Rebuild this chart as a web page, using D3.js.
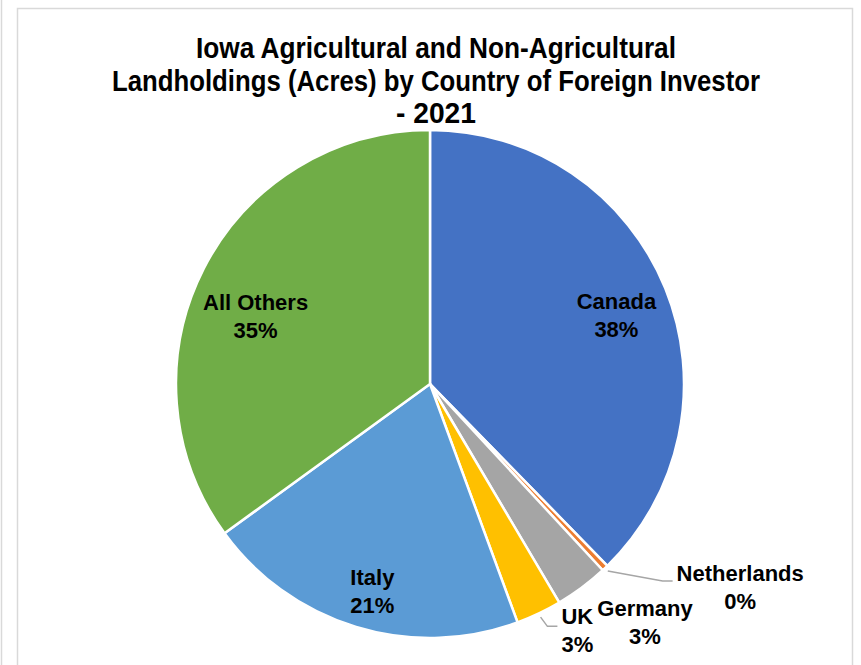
<!DOCTYPE html>
<html>
<head>
<meta charset="utf-8">
<script src="https://cdn.jsdelivr.net/npm/d3@7/dist/d3.min.js"></script>
<style>
  html, body { margin: 0; padding: 0; background: #ffffff; }
  svg { display: block; }
  .title { font-family: "Liberation Sans", Arial, sans-serif; font-weight: bold; font-size: 29px; fill: #000; }
  .lbl { font-family: "Liberation Sans", Arial, sans-serif; font-weight: bold; font-size: 22px; fill: #000; }
</style>
</head>
<body>
<script>
// Share of foreign-held acres by investor country (percent)
const countries = ["Canada", "Netherlands", "Germany", "UK", "Italy", "All Others"];
const shares    = [37.7, 0.4, 3.4, 2.9, 20.6, 35.0];
const colors    = ["#4472C4", "#ED7D31", "#A5A5A5", "#FFC000", "#5B9BD5", "#70AD47"];
const titleLines = ["Iowa Agricultural and Non-Agricultural",
                    "Landholdings (Acres) by Country of Foreign Investor",
                    "- 2021"];
// condensed title face: each line squeezed to its set width
const titleWidths = [480, 648, 80];

// label placement: inside labels sit on a ring, outside labels beyond the rim
const outside   = [false, true, true, true, false, false];
const nudges    = [[3, 6], [120, 3], [50, 17], [29, -3], [0, 18], [2, 22]];
const hasLeader = [false, true, false, true, false, false];

const W = 861, H = 665;
const cx = 430, cy = 384, R = 254;

const svg = d3.select("body").append("svg").attr("width", W).attr("height", H);

// outer frame lines
svg.append("line").attr("x1", 1.5).attr("x2", 1.5).attr("y1", 0).attr("y2", H)
  .attr("stroke", "#d9d9d9").attr("stroke-width", 1.5);
svg.append("rect").attr("x", 17.5).attr("y", 8.5).attr("width", 835).attr("height", H + 10)
  .attr("fill", "none").attr("stroke", "#d9d9d9").attr("stroke-width", 1.5);

// title
const titleY = [58, 91, 123];
titleLines.forEach((t, i) => {
  svg.append("text").attr("class", "title")
    .attr("x", 436 - titleWidths[i] / 2).attr("y", titleY[i])
    .attr("textLength", titleWidths[i])
    .attr("lengthAdjust", "spacingAndGlyphs")
    .text(t);
});

const pie = d3.pie().sort(null).value(d => d)(shares);
const arc = d3.arc().innerRadius(0).outerRadius(R);

const g = svg.append("g").attr("transform", `translate(${cx},${cy})`);

g.selectAll("path.slice").data(pie).join("path")
  .attr("class", "slice")
  .attr("d", arc)
  .attr("fill", (d, i) => colors[i])
  .attr("stroke", "#ffffff")
  .attr("stroke-width", 2.5)
  .attr("stroke-linejoin", "round");

const fmt = v => Math.round(v) + "%";
const total = d3.sum(shares);

pie.forEach((d, i) => {
  const mid = (d.startAngle + d.endAngle) / 2;
  const rr = outside[i] ? R + 22 : 198;
  const x = Math.sin(mid) * rr + nudges[i][0];
  const y = -Math.cos(mid) * rr + nudges[i][1];

  const t = g.append("text").attr("class", "lbl").attr("text-anchor", "middle");
  t.append("tspan").attr("x", x).attr("y", y - 6).text(countries[i]);
  t.append("tspan").attr("x", x).attr("y", y + 22).text(fmt(shares[i] / total * 100));

  if (hasLeader[i]) {
    const w = t.select("tspan").node().getComputedTextLength();
    const sx = Math.sin(mid) * (R + 4), sy = -Math.cos(mid) * (R + 4);
    const ex = x - w / 2 - 4, ey = y - (i === 1 ? 6 : 4);
    g.append("polyline")
      .attr("points", [[sx, sy], [ex - 10, ey], [ex, ey]].map(p => p.join(",")).join(" "))
      .attr("fill", "none").attr("stroke", "#a6a6a6").attr("stroke-width", 1.5);
  }
});
</script>
</body>
</html>
